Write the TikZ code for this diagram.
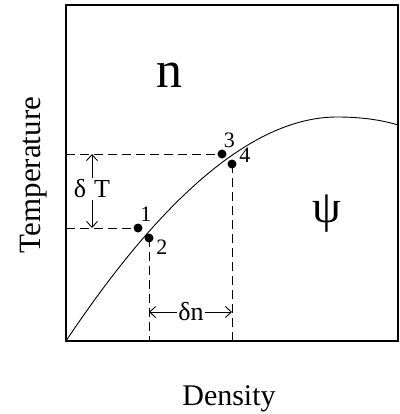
\documentclass[tikz,border=0pt]{standalone}
\usepackage{fontspec}
\setmainfont{Liberation Serif}
\usetikzlibrary{arrows.meta}

\begin{document}
\begin{tikzpicture}[
    x=1pt, y=-1pt,
    dot/.style={circle, fill=black, inner sep=0pt, minimum size=9pt},
    num/.style={font=\fontsize{22}{22}\selectfont, inner sep=1pt},
    guide/.style={dash pattern=on 9pt off 5pt, line width=0.8pt},
    delta/.style={font=\fontsize{26}{26}\selectfont, inner sep=1pt},
    >={Straight Barb[length=6pt, width=11pt]}, line width=0.9pt
]
\useasboundingbox (0,0) rectangle (399,414);

% frame and phase boundary
\draw[line width=1.4pt] (66,5) rectangle (398,341);
\draw (66,341) .. controls (166,191) and (257,117) .. (337,117)
      .. controls (365,117) and (385,121) .. (398,125);

% points on either side of the boundary
\node[dot, label={[num, label distance=0pt]80:1}]  (p1) at (138,228) {};
\node[dot, label={[num, label distance=1pt]-5:2}]  (p2) at (149,238) {};
\node[dot, label={[num, label distance=0pt]85:3}]  (p3) at (222,154) {};
\node[dot, label={[num, label distance=1pt]5:4}]   (p4) at (232,164) {};

\coordinate (left1) at (66,228);
\coordinate (left3) at (66,154);
\coordinate (bot2)  at (149,341);
\coordinate (bot4)  at (232,341);

\draw[guide] (left3) -- (p3.center);
\draw[guide] (left1) -- (p1.center);
\draw[guide] (p2.center) -- (bot2);
\draw[guide] (p4.center) -- (bot4);

% increments
\node[delta] (dT) at (92,189) {δ\hspace{8pt}T};
\draw[->] (dT.north) -- (dT.north |- p3.center);
\draw[->] (dT.south) -- (dT.south |- p1.center);

\node[delta] (dn) at (191,312) {δn};
\draw[->] (dn.west) -- (dn.west -| p2.center);
\draw[->] (dn.east) -- (dn.east -| p4.center);

% phase labels
\node[font=\fontsize{52}{52}\selectfont, anchor=base] (liq) at (169,88) {n};
\node[font=\fontsize{46}{46}\selectfont] (sol) at (327,214) {ψ};

% axes
\node[font=\fontsize{31}{31}\selectfont, rotate=90, anchor=base] (ylab) at (40,175) {Temperature};
\node[font=\fontsize{30}{30}\selectfont, anchor=base] (xlab) at (229,405) {Density};
\end{tikzpicture}
\end{document}
